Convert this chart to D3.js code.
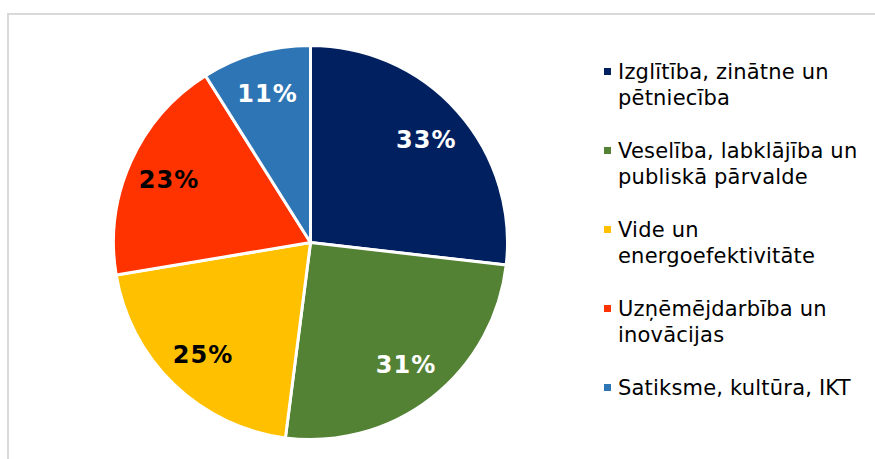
<!DOCTYPE html>
<html>
<head>
<meta charset="utf-8">
<script src="https://cdn.jsdelivr.net/npm/d3@7"></script>
<style>
  body { margin: 0; background: #fff; }
  svg { display: block; font-family: "DejaVu Sans", Verdana, sans-serif; }
</style>
</head>
<body>
<svg id="chart" width="875" height="459"></svg>
<script>
// data
const categories = [
  ["Izglītība, zinātne un", "pētniecība"],
  ["Veselība, labklājība un", "publiskā pārvalde"],
  ["Vide un", "energoefektivitāte"],
  ["Uzņēmējdarbība un", "inovācijas"],
  ["Satiksme, kultūra, IKT"]
];
const values = [33, 31, 25, 23, 11];
const colors = ["#002060", "#548235", "#FFC000", "#FF3300", "#2E75B6"];
const labelColors = ["#fff", "#fff", "#000", "#000", "#fff"];

const width = 875, height = 459;
const cx = 310.5, cy = 242.5, radius = 197;

const svg = d3.select("#chart");

// frame
svg.append("rect")
  .attr("x", 8).attr("y", 14)
  .attr("width", 880).attr("height", 470)
  .attr("fill", "none")
  .attr("stroke", "#d9d9d9")
  .attr("stroke-width", 2);

const pie = d3.pie().sort(null).value(d => d);
const arcs = pie(values);

const arc = d3.arc().innerRadius(0).outerRadius(radius);
const labelArc = d3.arc().innerRadius(155).outerRadius(155);

const g = svg.append("g").attr("transform", "translate(" + cx + "," + cy + ")");

g.selectAll("path")
  .data(arcs)
  .join("path")
    .attr("d", arc)
    .attr("fill", (d, i) => colors[i])
    .attr("stroke", "#fff")
    .attr("stroke-width", 3)
    .attr("stroke-linejoin", "round");

g.selectAll("text.lbl")
  .data(arcs)
  .join("text")
    .attr("class", "lbl")
    .attr("transform", d => "translate(" + labelArc.centroid(d) + ")")
    .attr("text-anchor", "middle")
    .attr("dy", "0.36em")
    .attr("fill", (d, i) => labelColors[i])
    .style("font-size", "24px")
    .style("font-weight", "bold")
    .style("letter-spacing", "1px")
    .text(d => d.data + "%");

// legend
const legend = svg.append("g");
const legY = d3.scaleLinear().domain([0, 4]).range([79, 395]);

const items = legend.selectAll("g")
  .data(categories)
  .join("g")
    .attr("transform", (d, i) => "translate(604," + legY(i) + ")");

items.append("rect")
  .attr("x", 0).attr("y", -11)
  .attr("width", 7).attr("height", 7)
  .attr("fill", (d, i) => colors[i]);

items.append("text")
  .attr("x", 14)
  .style("font-size", "21px")
  .style("letter-spacing", "0.2px")
  .attr("fill", "#000")
  .selectAll("tspan")
  .data(d => d)
  .join("tspan")
    .attr("x", 14)
    .attr("dy", (d, i) => i === 0 ? 0 : 26)
    .text(d => d);
</script>
</body>
</html>
